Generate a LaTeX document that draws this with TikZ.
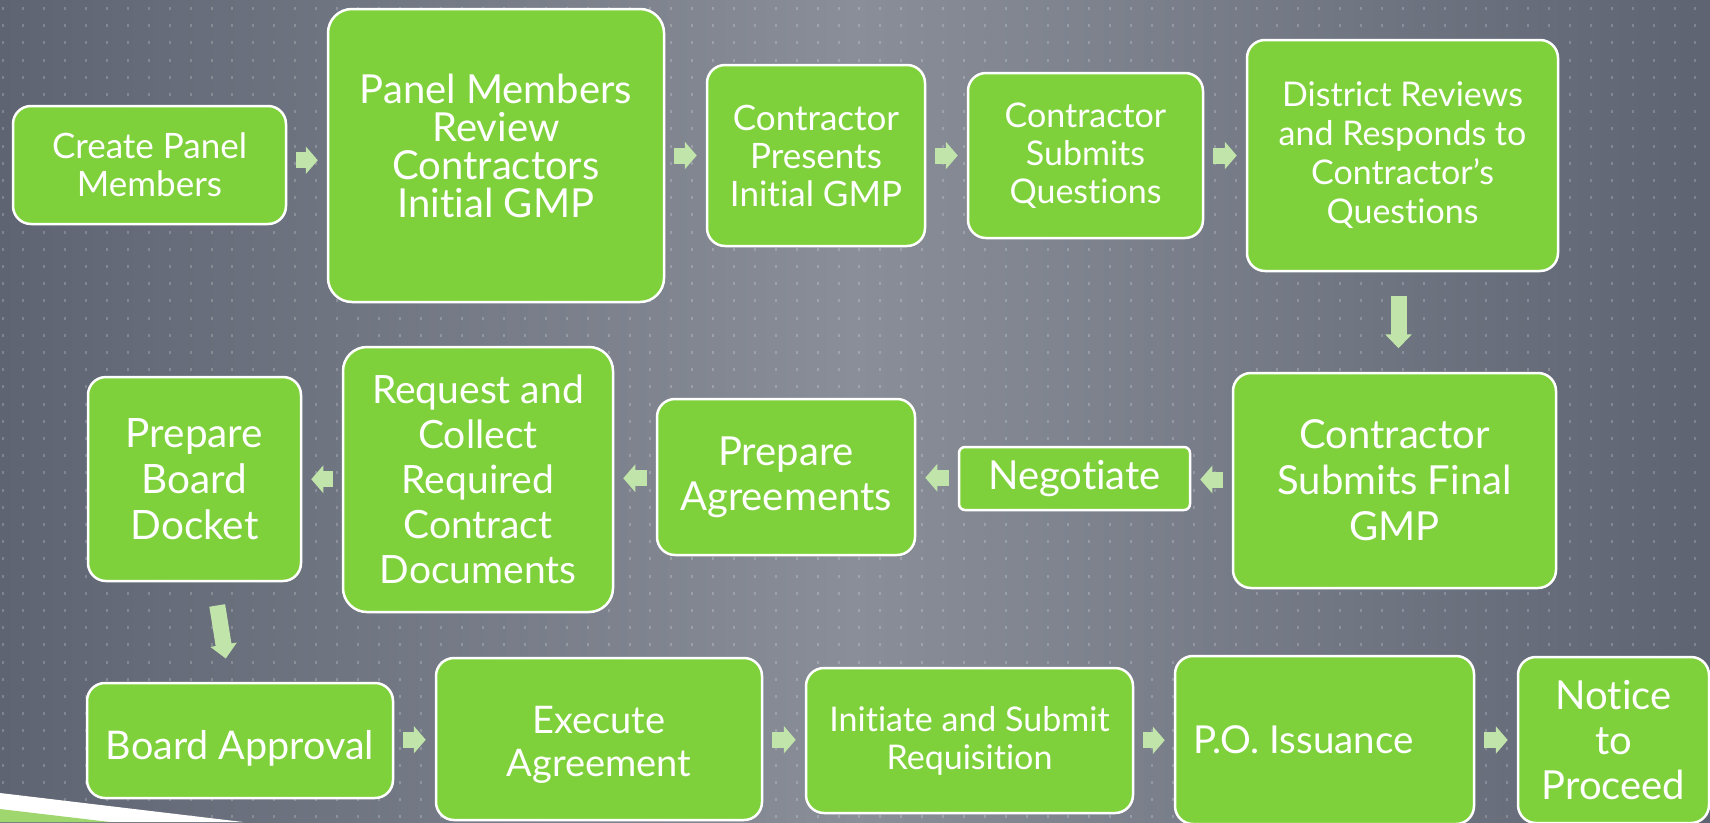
\documentclass[tikz,border=0pt]{standalone}
\usepackage{fontspec}
\setmainfont{Lato}[Ligatures=NoCommon]
\usetikzlibrary{calc, arrows.meta}

\definecolor{boxgreen}{RGB}{127,209,59}
\definecolor{arrowgreen}{RGB}{193,228,170}
\definecolor{bgside}{RGB}{94,100,114}
\definecolor{bgmid}{RGB}{137,142,152}
\definecolor{stripegreen}{RGB}{160,214,110}

% text block moved up or down inside its box, keeping its size
\newcommand{\lift}[2]{\raisebox{#1}[\height][\depth]{\vbox{\let\\\cr\halign{\hfil##\hfil\cr#2\cr}}}}

\tikzset{
  stepbox/.style={draw=white, line width=2.5pt, fill=boxgreen, text=white,
    rounded corners=18pt, align=center, inner sep=0pt},
  flowline/.style={draw=arrowgreen, line width=16pt, shorten <=9pt, shorten >=9pt,
    -{Triangle[width=27pt, length=12pt]}},
  downflow/.style={flowline, shorten <=23.5pt, shorten >=23.5pt,
    -{Triangle[width=26pt, length=14pt]}}
}

\begin{document}
\begin{tikzpicture}[x=1pt, y=-1pt]
\useasboundingbox (0,0) rectangle (1710,822);
\shade[left color=bgside, right color=bgside, middle color=bgmid] (0,0) rectangle (1710,822);
% dotted grid
\foreach \i in {0,...,81}
  \foreach \j in {0,...,47}
    \fill[white, opacity=0.2] (1.5+20.9*\i, 7+17.2*\j) rectangle ++(2,3);
\fill[white] (0,793) -- (243,822) -- (0,822) -- cycle;
\fill[stripegreen] (0,809) -- (110,822) -- (0,822) -- cycle;

% first row
\node[stepbox, minimum width=273, minimum height=118, font=\fontsize{35}{38}\selectfont] (create) at (149.5,165) {Create Panel\\Members};
\node[stepbox, minimum width=336, minimum height=293, rounded corners=24pt, font=\fontsize{40}{38}\selectfont] (review) at (496,155.5) {\lift{10pt}{Panel Members\\Review\\Contractors\\Initial GMP}};
\node[stepbox, minimum width=218, minimum height=181, font=\fontsize{35}{38}\selectfont] (presents) at (816,155.5) {Contractor\\Presents\\Initial GMP};
\node[stepbox, minimum width=235, minimum height=165, font=\fontsize{34}{38}\selectfont] (questions) at (1085.5,155.5) {Contractor\\Submits\\Questions};
\node[stepbox, minimum width=311, minimum height=231, font=\fontsize{34}{39}\selectfont] (district) at (1402.5,155.5) {District Reviews\\and Responds to\\Contractor’s\\Questions};

% second row
\node[stepbox, minimum width=323, minimum height=215, font=\fontsize{40}{46}\selectfont] (final) at (1394.5,480.5) {Contractor\\Submits Final\\GMP};
\node[stepbox, minimum width=231, minimum height=63, rounded corners=6pt, font=\fontsize{40}{44}\selectfont] (negotiate) at (1074.5,478.5) {Negotiate};
\node[stepbox, minimum width=258, minimum height=156, font=\fontsize{40}{45}\selectfont] (agreements) at (786,477) {Prepare\\Agreements};
\node[stepbox, minimum width=270, minimum height=265, rounded corners=24pt, font=\fontsize{39}{45}\selectfont] (request) at (478,479.5) {Request and\\Collect\\Required\\Contract\\Documents};
\node[stepbox, minimum width=213, minimum height=204, font=\fontsize{40.5}{46}\selectfont] (docket) at (194.5,479) {Prepare\\Board\\Docket};

% third row
\node[stepbox, minimum width=306, minimum height=115, font=\fontsize{39.5}{44}\selectfont] (board) at (240,740.5) {\lift{-8pt}{Board Approval}};
\node[stepbox, minimum width=326, minimum height=162, font=\fontsize{38}{43}\selectfont] (execute) at (599,739) {\lift{-5.5pt}{Execute\\Agreement}};
\node[stepbox, minimum width=327, minimum height=145, font=\fontsize{34}{38}\selectfont] (initiate) at (969.5,740.5) {Initiate and Submit\\Requisition};
\node[stepbox, minimum width=299, minimum height=168, font=\fontsize{38.5}{44}\selectfont] (po) at (1324.5,740) {P.O. Issuance\rule{42pt}{0pt}};
\node[stepbox, minimum width=191, minimum height=166, font=\fontsize{40}{45}\selectfont] (notice) at (1613.5,740) {Notice\\to\\Proceed};

% arrows between the steps
\foreach \a/\b in {create/review, review/presents, presents/questions, questions/district,
                   board/execute, execute/initiate, initiate/po, po/notice}{
  \coordinate (m\b) at ($(\a.east)!0.5!(\b.west)$);
  \draw[flowline] (\a.east |- m\b) -- (\b.west |- m\b);
}
\foreach \a/\b in {final/negotiate, negotiate/agreements, agreements/request, request/docket}{
  \coordinate (m\b) at ($(\a.west)!0.5!(\b.east)$);
  \draw[flowline] (\a.west |- m\b) -- (\b.east |- m\b);
}
\coordinate (mfinal) at ($(district.south)!0.5!(final.north)$);
\draw[downflow] (district.south -| mfinal) -- (final.north -| mfinal);
\draw[downflow] ($(docket.south)+(19,0)$) -- ($(board.north)+(-10.5,0)$);
\end{tikzpicture}
\end{document}
